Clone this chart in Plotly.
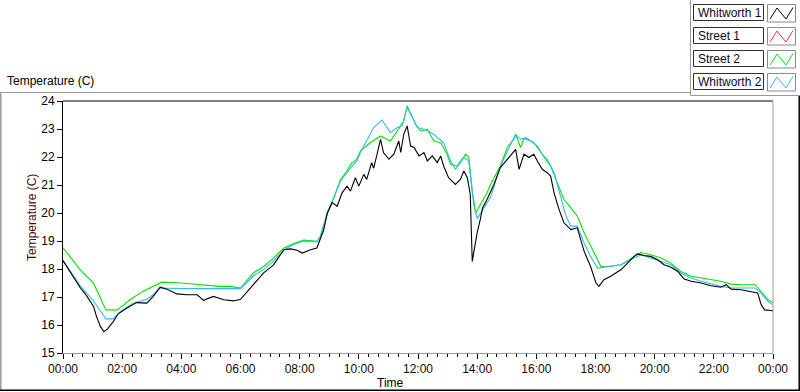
import pandas as pd
import plotly.graph_objects as go

# ---------------- data ----------------
street2_time = ["00:00","00:35","01:02","01:27","01:50","02:16","02:42","03:10","03:20","04:00",
                "04:38","05:00","05:18","05:39","06:00","06:26","06:47","07:07","07:28","07:48",
                "08:08","08:35","08:42","08:56","09:09","09:23","09:36","09:43","09:56","10:03",
                "10:23","10:44","11:04","11:18","11:31","11:38","11:45","11:55","12:05","12:19",
                "12:32","12:46","12:59","13:06","13:19","13:29","13:37","13:43","13:50","13:57",
                "14:07","14:20","14:27","14:47","15:01","15:14","15:18","15:28","15:35","15:49",
                "16:02","16:16","16:29","16:43","16:56","17:10","17:23","17:37","17:57","18:11",
                "18:25","18:52","19:11","19:32","19:52","20:13","20:33","20:53","21:14","21:34",
                "21:54","22:14","22:35","22:55","23:24","23:36","23:50","24:00"]
street2_temp = [18.76,17.97,17.50,16.54,16.54,16.90,17.20,17.44,17.53,17.50,
                17.45,17.40,17.38,17.38,17.32,17.86,18.09,18.39,18.75,18.91,
                19.03,18.99,19.17,20.00,20.54,21.20,21.50,21.74,21.92,22.21,
                22.51,22.75,22.57,22.93,23.29,23.83,23.53,23.17,22.93,22.99,
                22.57,22.51,22.10,21.74,21.68,21.92,22.10,21.98,20.78,20.00,
                20.30,20.72,21.02,21.68,22.34,22.63,22.81,22.34,22.66,22.57,
                22.39,21.98,21.68,21.08,20.48,20.19,19.89,19.29,18.57,18.09,
                18.09,18.15,18.36,18.59,18.51,18.39,18.21,17.91,17.74,17.68,
                17.62,17.56,17.46,17.44,17.44,17.20,16.90,16.80]

whitworth2_time = ["00:00","00:35","01:00","01:15","01:27","01:42","01:56","02:22","02:50","03:03",
                   "03:17","04:00","05:00","06:00","06:26","06:47","07:07","07:28","07:48","08:08",
                   "08:35","08:42","08:56","09:09","09:23","09:36","09:56","10:03","10:30","10:47",
                   "11:04","11:18","11:28","11:38","11:59","12:12","12:32","12:52","13:06","13:16",
                   "13:33","13:43","13:53","14:00","14:14","14:27","14:47","15:14","15:18","15:28",
                   "15:38","15:55","16:09","16:22","16:36","16:49","17:00","17:10","17:23","17:37",
                   "17:50","18:04","18:25","18:52","19:11","19:32","19:52","20:13","20:33","20:53",
                   "21:14","21:34","21:47","22:14","22:35","23:24","23:36","23:50","24:00"]
whitworth2_temp = [18.31,17.40,16.90,16.50,16.22,16.22,16.48,16.78,16.92,17.08,
                   17.32,17.30,17.30,17.30,17.75,17.98,18.28,18.68,18.88,19.00,
                   18.97,19.15,19.95,20.50,21.15,21.45,21.86,22.15,23.05,23.32,
                   22.87,23.05,23.11,23.77,23.05,22.99,22.81,22.51,21.86,21.56,
                   21.98,21.86,20.30,19.80,20.19,20.55,21.68,22.69,22.81,22.63,
                   22.69,22.51,22.16,21.92,21.44,20.60,19.89,19.53,19.53,18.93,
                   18.45,18.03,18.09,18.15,18.33,18.51,18.39,18.27,18.15,17.86,
                   17.68,17.56,17.50,17.38,17.32,17.32,17.14,16.84,16.72]

whitworth1_time = ["00:00","00:15","00:35","00:48","01:02","01:08","01:16","01:23","01:30","01:42",
                   "01:52","02:09","02:29","02:50","03:03","03:17","03:31","03:51","04:11","04:32",
                   "04:45","05:05","05:26","05:46","06:00","06:20","06:47","07:07","07:28","07:41",
                   "07:55","08:05","08:22","08:35","08:49","08:56","09:06","09:16","09:26","09:36",
                   "09:43","09:53","10:00","10:10","10:16","10:26","10:30","10:37","10:44","10:50",
                   "11:01","11:11","11:21","11:25","11:31","11:38","11:45","11:52","12:02","12:12",
                   "12:19","12:29","12:39","12:46","12:52","13:02","13:16","13:26","13:33","13:40",
                   "13:46","13:50","13:53","14:00","14:07","14:11","14:20","14:34","14:47","15:01",
                   "15:14","15:18","15:25","15:35","15:45","15:55","16:02","16:12","16:22","16:29",
                   "16:36","16:46","16:56","17:10","17:23","17:37","17:50","18:01","18:07","18:17",
                   "18:31","18:52","19:05","19:18","19:25","19:38","19:52","20:06","20:19","20:33",
                   "20:47","21:00","21:14","21:34","21:54","22:14","22:25","22:35","22:55","23:16",
                   "23:29","23:36","23:43","23:56","24:00"]
whitworth1_temp = [18.30,17.90,17.33,17.04,16.66,16.30,15.94,15.76,15.85,16.12,
                   16.40,16.60,16.80,16.78,17.02,17.35,17.28,17.11,17.08,17.08,
                   16.88,17.02,16.90,16.86,16.92,17.32,17.86,18.15,18.69,18.72,
                   18.67,18.57,18.69,18.75,19.41,20.00,20.37,20.24,20.72,20.96,
                   20.78,21.26,20.96,21.38,21.20,21.80,21.60,22.10,22.63,22.16,
                   21.92,22.10,22.57,22.16,22.81,23.11,22.39,22.34,22.04,22.16,
                   21.86,22.04,21.80,22.04,21.68,21.26,21.02,21.20,21.50,21.26,
                   20.66,18.27,18.60,19.30,19.83,20.19,20.48,21.02,21.62,21.92,
                   22.16,22.27,21.56,22.10,21.98,22.10,21.86,21.56,21.44,21.32,
                   20.72,20.13,19.65,19.41,19.47,18.63,18.09,17.50,17.38,17.62,
                   17.74,17.98,18.21,18.45,18.54,18.48,18.45,18.33,18.15,18.06,
                   17.91,17.64,17.56,17.50,17.40,17.35,17.44,17.28,17.26,17.20,
                   17.14,16.72,16.54,16.52,16.50]

street1_time = []   # no visible data for Street 1
street1_temp = []

series_names = ["Whitworth 1", "Street 1", "Street 2", "Whitworth 2"]
series_colors = ["#000000", "#ff3030", "#00e600", "#33b8ff"]
tick_labels = ["00:00", "02:00", "04:00", "06:00", "08:00", "10:00", "12:00",
               "14:00", "16:00", "18:00", "20:00", "22:00", "00:00"]

# ---------------- helpers ----------------
BASE = pd.Timestamp("2000-01-01")


def to_dt(times):
    out = []
    for s in times:
        h, m = s.split(":")
        out.append(BASE + pd.Timedelta(hours=int(h), minutes=int(m)))
    return out


W, H = 800, 392
L, R, T, B = 63, 773, 101, 353   # plot-area pixel box


def px(x):
    return (x - L) / (R - L)


def py(y):
    return (B - y) / (B - T)


fig = go.Figure()
data = [(whitworth1_time, whitworth1_temp), (street1_time, street1_temp),
        (street2_time, street2_temp), (whitworth2_time, whitworth2_temp)]
# draw order: street1, street2, whitworth2, whitworth1 (black on top)
for idx in [1, 2, 3, 0]:
    tt, vv = data[idx]
    fig.add_trace(go.Scatter(x=to_dt(tt), y=vv, mode="lines", name=series_names[idx],
                             line=dict(color=series_colors[idx], width=1.1),
                             showlegend=False))

tickvals = [BASE + pd.Timedelta(hours=2 * i) for i in range(13)]

fig.update_layout(
    width=W, height=H,
    margin=dict(l=L, r=W - R, t=T, b=H - B),
    paper_bgcolor="white", plot_bgcolor="white",
    font=dict(family="Liberation Sans, Arial, sans-serif", size=12, color="#000000"),
    showlegend=False,
    xaxis=dict(
        range=[BASE, BASE + pd.Timedelta(hours=24)],
        tickmode="array", tickvals=tickvals, ticktext=tick_labels,
        showgrid=False, zeroline=False,
        showline=True, linecolor="#9a9a9a", linewidth=1,
        ticks="outside", ticklen=5, tickcolor="#000000", tickwidth=1,
        minor=dict(dtick=20 * 60 * 1000, ticks="outside", ticklen=3,
                   tickcolor="#000000", tickwidth=1, showgrid=False),
        tickfont=dict(size=12, color="#1a0608"),
    ),
    yaxis=dict(
        range=[15, 24], dtick=1, tick0=15,
        showgrid=False, zeroline=False,
        showline=True, linecolor="#000000", linewidth=1,
        ticks="outside", ticklen=5, tickcolor="#000000", tickwidth=1,
        tickfont=dict(size=12, color="#000000"),
    ),
)

shapes = []
# plot area top (black) and right (gray) borders
shapes.append(dict(type="line", xref="paper", yref="paper", x0=px(L), x1=px(R), y0=1, y1=1,
                   line=dict(color="#000000", width=1)))
shapes.append(dict(type="line", xref="paper", yref="paper", x0=1, x1=1, y0=0, y1=1,
                   line=dict(color="#9a9a9a", width=1)))
# outer panel frame
shapes.append(dict(type="line", xref="paper", yref="paper", x0=px(0.5), x1=px(690.5),
                   y0=py(92.5), y1=py(92.5), line=dict(color="#9a9a9a", width=1)))
shapes.append(dict(type="line", xref="paper", yref="paper", x0=px(0.8), x1=px(0.8),
                   y0=py(92.5), y1=py(390), line=dict(color="#9a9a9a", width=1.5)))
shapes.append(dict(type="line", xref="paper", yref="paper", x0=px(0), x1=px(800),
                   y0=py(390.3), y1=py(390.3), line=dict(color="#000000", width=1.5)))
shapes.append(dict(type="line", xref="paper", yref="paper", x0=px(799.2), x1=px(799.2),
                   y0=py(95.5), y1=py(391), line=dict(color="#000000", width=1.5)))
# legend panel borders
shapes.append(dict(type="line", xref="paper", yref="paper", x0=px(690.5), x1=px(690.5),
                   y0=py(0), y1=py(95.5), line=dict(color="#9a9a9a", width=1)))
shapes.append(dict(type="line", xref="paper", yref="paper", x0=px(690.5), x1=px(800),
                   y0=py(95.5), y1=py(95.5), line=dict(color="#9a9a9a", width=1)))

annotations = []
row_tops = [4.5, 27.5, 50.5, 73.5]
for i, name in enumerate(series_names):
    y0, y1 = row_tops[i], row_tops[i] + 16
    # name box
    shapes.append(dict(type="rect", xref="paper", yref="paper",
                       x0=px(693.5), x1=px(763.5), y0=py(y1), y1=py(y0),
                       line=dict(color="#303030", width=1), fillcolor="white"))
    # icon box
    shapes.append(dict(type="rect", xref="paper", yref="paper",
                       x0=px(767.5), x1=px(795.5), y0=py(y1 + 1.5), y1=py(y0),
                       line=dict(color="#8a8a8a", width=1), fillcolor="white"))
    zx = [770, 777, 786, 793]
    zy = [y1 - 1.5, y0 + 3.5, y1 - 1.5, y0 + 3]
    path = "M {} {} L {} {} L {} {} L {} {}".format(
        px(zx[0]), py(zy[0]), px(zx[1]), py(zy[1]), px(zx[2]), py(zy[2]), px(zx[3]), py(zy[3]))
    shapes.append(dict(type="path", xref="paper", yref="paper", path=path,
                       line=dict(color=series_colors[i], width=1)))
    annotations.append(dict(text=name, xref="paper", yref="paper", x=px(696), y=py(y0 + 8.5),
                            xanchor="left", yanchor="middle", showarrow=False,
                            font=dict(size=12, color="#0a0a20")))

# chart caption and axis titles
annotations.append(dict(text="Temperature (C)", xref="paper", yref="paper", x=px(5), y=py(81),
                        xanchor="left", yanchor="middle", showarrow=False,
                        font=dict(size=12, color="#000000")))
annotations.append(dict(text="Temperature (C)", xref="paper", yref="paper", x=px(32), y=py(218),
                        xanchor="center", yanchor="middle", textangle=-90, showarrow=False,
                        font=dict(size=12, color="#4a0a0a")))
annotations.append(dict(text="Time", xref="paper", yref="paper", x=px(390), y=py(383),
                        xanchor="center", yanchor="middle", showarrow=False,
                        font=dict(size=12, color="#000000")))

fig.update_layout(shapes=shapes, annotations=annotations)
fig.write_html("out.html", config={"displayModeBar": False},
               post_script="document.body.style.margin='0';document.body.style.padding='0';")
